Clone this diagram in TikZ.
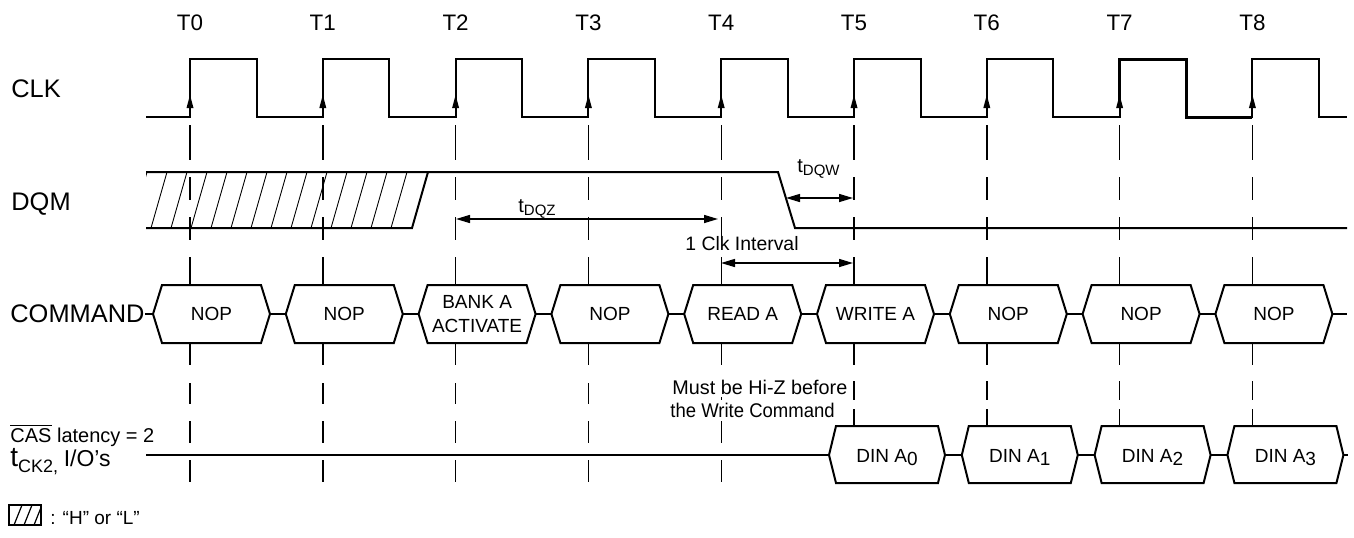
\documentclass[tikz,border=0pt]{standalone}
\usepackage{fontspec}
\setmainfont{Liberation Sans}
\usepackage{graphicx}
\usetikzlibrary{arrows.meta}
\begin{document}
\begin{tikzpicture}[x=0.5pt,y=-0.5pt,
  sig/.style={line width=1pt, line join=miter},
  tick/.style={line width=0.7pt},
  hatch/.style={line width=0.45pt},
  dim/.style={line width=0.75pt, {Triangle[length=7pt,width=4pt]}-{Triangle[length=7pt,width=4pt]}},
  lbl/.style={inner sep=0pt, font=\fontsize{12.7}{15}\selectfont},
  tlbl/.style={inner sep=0pt, font=\fontsize{11.2}{13}\selectfont},
  cmd/.style={inner sep=0pt, font=\fontsize{9.5}{12}\selectfont, align=center},
  small/.style={inner sep=0pt, font=\fontsize{9.7}{11.5}\selectfont},
  note/.style={inner xsep=0pt, inner ysep=1.5pt, fill=white, font=\fontsize{9.9}{11.5}\selectfont},
  hexline/.style={line width=1pt, line join=miter}]
\useasboundingbox (0,0) rectangle (1354,537);

% ---------- time labels and dashed grid ----------
\foreach \i in {0,...,8} {
  \pgfmathsetmacro\T{190+132.8*\i}
  \node[tlbl] (T\i) at (\T,22.5) {T\i};
  \foreach \a/\b in {125/160,177/200,217/240,257/285,343/365}
    \draw[tick] (\T,\a) -- (\T,\b);
  \ifnum\i<5
    \foreach \a/\b in {383/404,421/443,460/482} \draw[tick] (\T,\a) -- (\T,\b);
  \else
    \foreach \a/\b in {381/400,409/426} \draw[tick] (\T,\a) -- (\T,\b);
  \fi
}

% ---------- signal names ----------
\node[lbl, anchor=base west] (clk) at (11,97) {CLK};
\node[lbl, anchor=base west] (dqm) at (11,210) {DQM};
\node[lbl, anchor=base west] (cmdlbl) at (10,322) {COMMAND};
\node[inner sep=0pt, anchor=base west, font=\fontsize{10}{12}\selectfont] (cas) at (10,442) {$\overline{\mbox{CAS}}$ latency = 2};
\node[inner sep=0pt, anchor=base west] (tck) at (10,466) {{\fontsize{14}{16}\selectfont t}\raisebox{-3pt}{\fontsize{9}{11}\selectfont CK2,} {\fontsize{11.5}{13}\selectfont I/O’s}};

% ---------- CLK ----------
\draw[sig] (146,117) \foreach \i in {0,...,8} {
  -- ({190+132.8*\i},117) -- ({190+132.8*\i},59) -- ({256.5+132.8*\i},59) -- ({256.5+132.8*\i},117) } -- (1347,117);
\draw[line width=1.5pt, line join=miter] (1119.6,100) -- (1119.6,59) -- (1186.1,59) -- (1186.1,117) -- (1252.4,117);
\foreach \i in {0,...,8} {
  \pgfmathsetmacro\T{190+132.8*\i}
  \fill (\T,95) -- (\T-3.5,108) -- (\T+3.5,108) -- cycle;
}

% ---------- DQM ----------
\begin{scope}
  \clip (146,172) -- (428,172) -- (412,228) -- (146,228) -- cycle;
  \foreach \k in {0,...,14} \draw[hatch] ({407-20*\k},172) -- ({391-20*\k},228);
\end{scope}
\draw[sig] (146,172) -- (778,172) -- (795,228) -- (1347,228);
\draw[sig] (146,228) -- (412,228) -- (428,172);

% ---------- timing dimensions ----------
\coordinate (zA) at (456,219);
\coordinate (zB) at (718,219);
\draw[dim] (zA) -- (zB);
\node[inner sep=0pt, anchor=base west, font=\fontsize{10}{12}\selectfont] (tdqz) at (518,212) {t\raisebox{-0.35ex}{\fontsize{7.5}{9}\selectfont DQZ}};
\coordinate (wA) at (786,198);
\coordinate (wB) at (853,198);
\draw[dim] (wA) -- (wB);
\node[inner sep=0pt, anchor=base west, font=\fontsize{10}{12}\selectfont] (tdqw) at (797,172) {t\raisebox{-0.35ex}{\fontsize{7.5}{9}\selectfont DQW}};
\coordinate (iA) at (721,263);
\coordinate (iB) at (853,263);
\draw[dim] (iA) -- (iB);
\node[small, anchor=base west] (clkint) at (685,250) {1 Clk Interval};

% ---------- COMMAND bus ----------
\foreach \i/\txt in {0/NOP,1/NOP,2/{BANK A\\ACTIVATE},3/NOP,4/READ A,5/WRITE A,6/NOP,7/NOP,8/NOP} {
  \pgfmathsetmacro\T{190+132.8*\i}
  \draw[hexline] (\T-37,314) -- (\T-28,285) -- (\T+71,285) -- (\T+80,314) -- (\T+71,343) -- (\T-28,343) -- cycle;
  \coordinate (cl\i) at (\T-37,314);
  \coordinate (cr\i) at (\T+80,314);
  \node[cmd] (c\i) at (\T+21.5,314) {\txt};
}
\draw[hexline] (cmdlbl.east |- cl0) -- (cl0);
\foreach \i [evaluate=\i as \j using int(\i+1)] in {0,...,7} \draw[hexline] (cr\i) -- (cl\j);
\coordinate (cend) at (1347,314);
\draw[hexline] (cr8) -- (cend);

% ---------- note ----------
\node[note, anchor=base west] (hiz1) at (672,394) {Must be Hi-Z before};
\node[note, anchor=base west] (hiz2) at (670,417) {\scalebox{0.935}[1]{the Write Command}};

% ---------- I/O bus ----------
\foreach \i/\n in {5/0,6/1,7/2,8/3} {
  \pgfmathsetmacro\T{190+132.8*\i}
  \draw[hexline] (\T-25,455) -- (\T-18,426) -- (\T+84,426) -- (\T+91,455) -- (\T+84,483) -- (\T-18,483) -- cycle;
  \coordinate (dl\i) at (\T-25,455);
  \coordinate (dr\i) at (\T+91,455);
  \node[cmd, anchor=base] (d\i) at (\T+33,462) {DIN A\raisebox{-0.3ex}{\n}};
}
\coordinate (dstart) at (146,455);
\draw[hexline] (dstart) -- (dl5);
\foreach \i [evaluate=\i as \j using int(\i+1)] in {5,6,7} \draw[hexline] (dr\i) -- (dl\j);
\coordinate (dend) at (1348,455);
\draw[hexline] (dr8) -- (dend);

% ---------- legend ----------
\begin{scope}
  \clip (9,505) rectangle (41,525);
  \foreach \x in {14,24,34} \draw[hatch, line width=0.6pt] (\x,525) -- (\x+8,505);
\end{scope}
\draw[line width=0.6pt] (9,505) rectangle (41,525);
\draw[line width=1pt] (41,505) -- (41,525);
\node[small, anchor=base west, font=\fontsize{9.5}{11}\selectfont] (legend) at (50,524) {: “H” or “L”};
\end{tikzpicture}
\end{document}
